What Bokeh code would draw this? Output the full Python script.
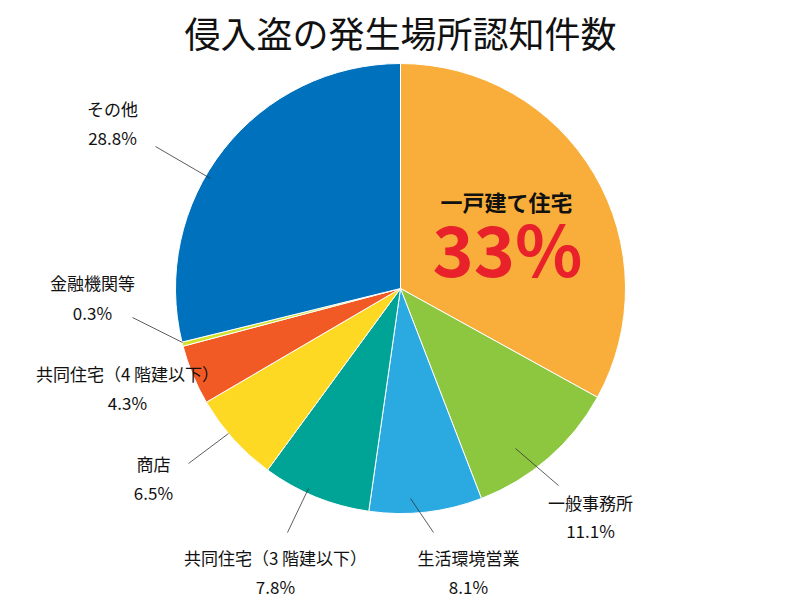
import math
from bokeh.plotting import figure
from bokeh.models import ColumnDataSource, Range1d
from bokeh.core.properties import value
from bokeh.embed import file_html
from bokeh.resources import INLINE

# データ（時計回り、12時の位置から）
categories = ["一戸建て住宅", "一般事務所", "生活環境営業", "共同住宅（3 階建以下）",
              "商店", "共同住宅（4 階建以下）", "金融機関等", "その他"]
shares = [33.0, 11.1, 8.1, 7.8, 6.5, 4.3, 0.3, 28.8]
share_labels = ["33%", "11.1%", "8.1%", "7.8%", "6.5%", "4.3%", "0.3%", "28.8%"]
colors = ["#F9AE3B", "#8DC63F", "#2BA9E1", "#00A497", "#FDD923", "#F15A25", "#D4E12B", "#0071BC"]

title = "侵入盗の発生場所認知件数"

# レイアウト（ページ上のピクセル位置、y は下向き）
cx, cy, radius = 400, 288, 225
label_pos = [None, (590, 502), (468, 557), (275, 557), (153, 463), (127, 373), (92, 282), (112, 108)]
pct_gap = [None, 28, 29, 29, 29, 29, 30, 29]
leaders = [None, ((558, 485), (515, 448)), ((433, 532), (410, 498)), ((287, 532), (308, 488)),
           ((188, 463), (228, 433)), None, ((132, 317), (182, 342)), ((155, 146), (210, 178))]

W, H = 800, 600


def fy(y):
    return H - y


total = sum(shares)
starts, ends = [], []
acc = 0.0
for s in shares:
    starts.append(math.pi / 2 - 2 * math.pi * acc / total)
    acc += s
    ends.append(math.pi / 2 - 2 * math.pi * acc / total)

p = figure(width=W, height=H, x_range=Range1d(0, W), y_range=Range1d(0, H),
           output_backend="svg", toolbar_location=None, min_border=0)
p.axis.visible = False
p.grid.visible = False
p.outline_line_color = None
p.background_fill_color = "white"

src = ColumnDataSource(dict(start=starts, end=ends, color=colors, cat=categories))
p.wedge(x=cx, y=fy(cy), radius=radius, start_angle="start", end_angle="end",
        direction="clock", fill_color="color", line_color="white", line_width=1, source=src)

font = value("Noto Sans CJK JP")

# タイトル
p.text(x=[400], y=[fy(31)], text=[title], text_font=font, text_font_size="36px",
       text_align="center", text_baseline="middle", text_color="#111111")

# 一戸建て住宅（大ラベル）
p.text(x=[506], y=[fy(200)], text=[categories[0]], text_font=font, text_font_size="22px",
       text_font_style="bold", text_align="center", text_baseline="middle", text_color="#111111")
p.text(x=[507], y=[fy(246)], text=[share_labels[0]], text_font=font, text_font_size="70px",
       text_font_style="bold", text_align="center", text_baseline="middle", text_color="#E8212B")

# その他のラベル
lx, ly, lt, py_, pt = [], [], [], [], []
for i in range(1, len(categories)):
    x, y = label_pos[i]
    lx.append(x)
    ly.append(fy(y))
    lt.append(categories[i])
    py_.append(fy(y + pct_gap[i]))
    pt.append(share_labels[i])

p.text(x=lx, y=ly, text=lt, text_font=font, text_font_size="17px",
       text_align="center", text_baseline="middle", text_color="#111111")
p.text(x=lx, y=py_, text=pt, text_font=font, text_font_size="17px",
       text_align="center", text_baseline="middle", text_color="#111111")

x0, y0, x1, y1 = [], [], [], []
for seg in leaders:
    if seg is None:
        continue
    (a, b), (c, d) = seg
    x0.append(a)
    y0.append(fy(b))
    x1.append(c)
    y1.append(fy(d))
p.segment(x0=x0, y0=y0, x1=x1, y1=y1, line_color="#333333", line_width=0.8)

open("out.html", "w").write(file_html(p, INLINE))
